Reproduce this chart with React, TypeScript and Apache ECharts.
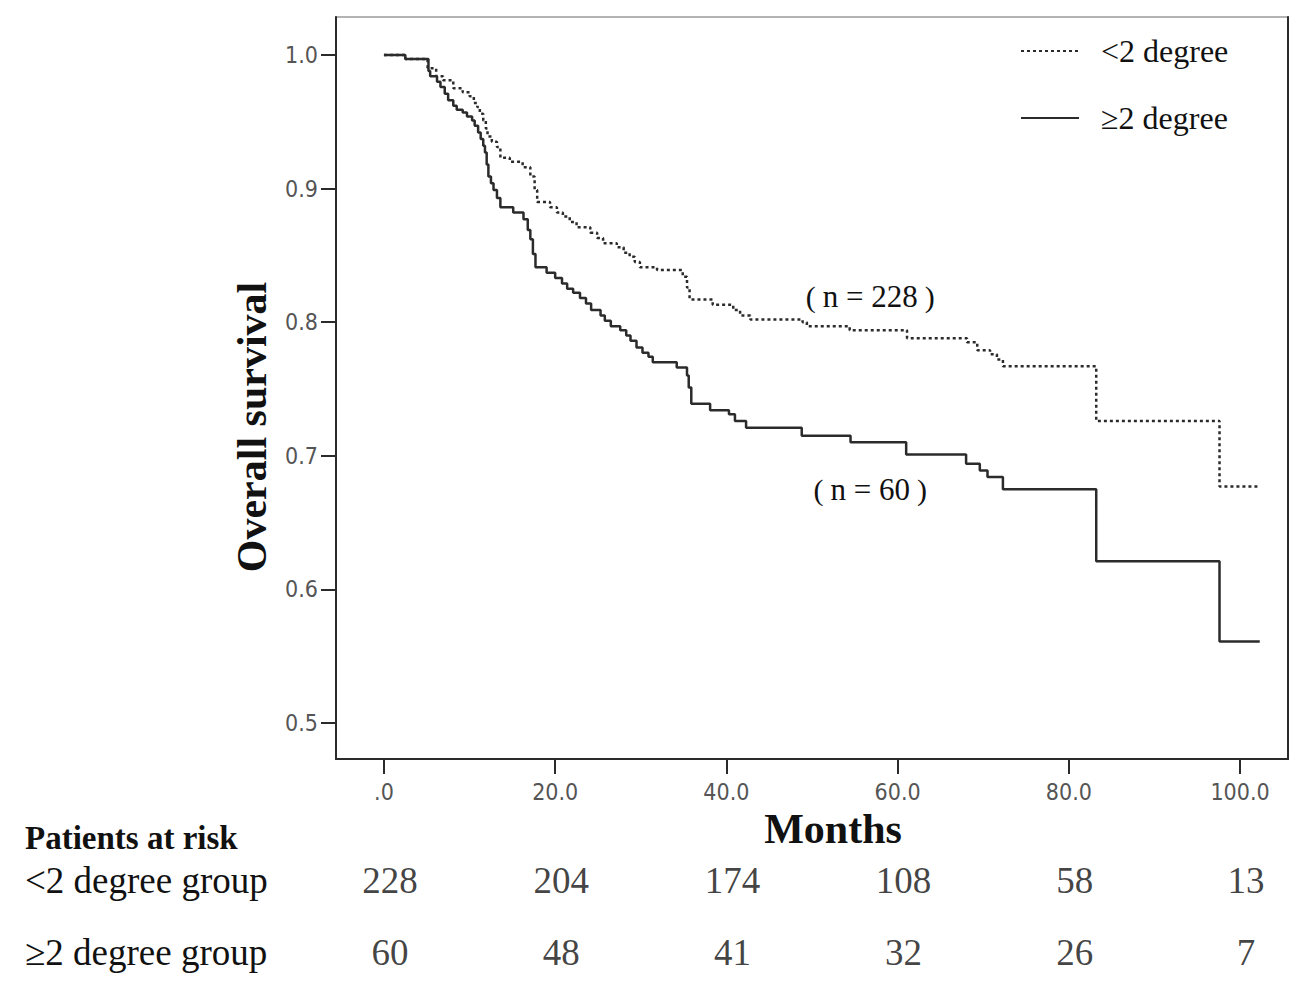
import React, { useEffect, useRef } from 'react';
import * as echarts from 'echarts';

// Kaplan-Meier step data (months, survival after the drop)
const timeLt2 = [0, 2.5, 5.1, 6.1, 6.9, 8.1, 9.2, 10.0, 10.5, 10.9, 11.2, 11.6, 11.9, 12.1, 12.6, 13.2, 13.6, 14.7, 16.2, 17.1, 17.6, 17.9, 19.4, 20.2, 20.9, 21.7, 22.5, 24.1, 24.9, 25.6, 27.2, 28.0, 28.7, 29.3, 29.9, 31.9, 34.9, 35.4, 35.7, 38.4, 40.8, 41.6, 42.8, 48.9, 49.4, 54.4, 61.1, 68.1, 69.3, 70.8, 71.6, 72.3, 83.2, 97.6, 102.3];
const survLt2 = [1.0, 0.997, 0.990, 0.984, 0.981, 0.975, 0.972, 0.969, 0.964, 0.961, 0.956, 0.951, 0.945, 0.939, 0.935, 0.931, 0.923, 0.920, 0.916, 0.909, 0.899, 0.890, 0.886, 0.882, 0.879, 0.875, 0.871, 0.867, 0.863, 0.859, 0.856, 0.852, 0.849, 0.845, 0.841, 0.839, 0.834, 0.826, 0.817, 0.813, 0.809, 0.805, 0.802, 0.800, 0.797, 0.794, 0.788, 0.785, 0.779, 0.776, 0.772, 0.767, 0.726, 0.677, 0.677];

const timeGe2 = [0, 2.5, 5.2, 5.4, 6.2, 6.6, 7.1, 7.5, 8.1, 8.5, 9.2, 9.7, 10.3, 10.6, 11.0, 11.3, 11.6, 11.8, 12.0, 12.2, 12.5, 12.8, 13.2, 13.6, 15.1, 16.3, 16.8, 17.1, 17.4, 17.7, 19.0, 20.0, 20.8, 21.4, 22.1, 22.9, 23.6, 24.2, 25.3, 25.8, 26.5, 27.6, 28.3, 28.8, 29.5, 30.2, 30.9, 31.4, 34.2, 35.4, 35.6, 35.9, 38.1, 40.3, 41.0, 42.3, 48.8, 54.5, 61.0, 68.0, 69.6, 70.5, 72.3, 83.2, 97.6, 102.3];
const survGe2 = [1.0, 0.997, 0.988, 0.984, 0.980, 0.976, 0.971, 0.966, 0.962, 0.959, 0.957, 0.954, 0.951, 0.947, 0.942, 0.937, 0.932, 0.927, 0.918, 0.909, 0.904, 0.899, 0.893, 0.886, 0.882, 0.877, 0.869, 0.862, 0.851, 0.841, 0.837, 0.833, 0.829, 0.825, 0.822, 0.818, 0.814, 0.809, 0.805, 0.801, 0.797, 0.794, 0.790, 0.786, 0.781, 0.777, 0.774, 0.770, 0.766, 0.760, 0.751, 0.739, 0.734, 0.731, 0.726, 0.721, 0.715, 0.710, 0.701, 0.694, 0.689, 0.684, 0.675, 0.621, 0.561, 0.561];

const groupNames = ['<2 degree', '≥2 degree'];
const xTicks = [0, 20, 40, 60, 80, 100];
const yTicks = [0.5, 0.6, 0.7, 0.8, 0.9, 1.0];

const riskRows = ['<2 degree group', '≥2 degree group'];
const riskTimes = [0, 20, 40, 60, 80, 100];
const riskLt2 = [228, 204, 174, 108, 58, 13];
const riskGe2 = [60, 48, 41, 32, 26, 7];

const annotLt2 = { text: 'n = 228', t: 56.8, s: 0.819 };
const annotGe2 = { text: 'n = 60', t: 56.8, s: 0.675 };

const SERIF = '"Liberation Serif", "Times New Roman", "Noto Sans CJK SC", serif';
const NARROW = '"Liberation Sans Narrow", "DejaVu Sans Condensed", "Liberation Sans", sans-serif';
const XMIN = -5.6;
const XMAX = 105.6;
const YMIN = 0.473;
const YMAX = 1.0284;
const INK = '#2b2b2b';

function buildOption(): any {
  const annotation = (a: { text: string; t: number; s: number }) => ({
    silent: true,
    symbol: 'circle',
    symbolSize: 0,
    itemStyle: { color: 'transparent' },
    label: {
      show: true,
      position: 'inside',
      formatter: (p: any) => `{pl|(}{t|${p.name}}{pr|)}`,
      color: '#111',
      rich: {
        pl: { fontFamily: SERIF, fontSize: 30, color: '#111', width: 17, align: 'left' },
        pr: { fontFamily: SERIF, fontSize: 30, color: '#111', width: 17, align: 'right' },
        t: { fontFamily: SERIF, fontSize: 31, color: '#111' },
      },
    },
    data: [{ name: a.text, coord: [a.t, a.s] }],
  });

  const riskSeries = (values: number[], row: number) => ({
    type: 'scatter',
    xAxisIndex: 1,
    yAxisIndex: 2,
    symbolSize: 0,
    silent: true,
    itemStyle: { color: 'transparent' },
    label: {
      show: true,
      position: 'inside',
      offset: [6, 0],
      formatter: (p: any) => String(p.value[2]),
      fontFamily: SERIF,
      fontSize: 37,
      color: '#111',
    },
    data: riskTimes.map((t, i) => [t, row, values[i]]),
  });

  return {
    animation: false,
    backgroundColor: '#ffffff',
    title: {
      text: 'Patients at risk',
      left: 25,
      top: 821,
      padding: 0,
      textStyle: { fontFamily: SERIF, fontWeight: 'bold', fontSize: 33, color: '#111' },
    },
    legend: {
      orient: 'vertical',
      left: 1020,
      top: 35,
      padding: 0,
      itemWidth: 58,
      itemHeight: 14,
      itemGap: 35,
      data: groupNames,
      selectedMode: false,
      itemStyle: { opacity: 0 },
      textStyle: {
        fontFamily: SERIF,
        fontSize: 32,
        lineHeight: 32,
        color: '#111',
        padding: [0, 0, 0, 17],
      },
    },
    grid: [
      { left: 336, top: 17, width: 952, height: 742, show: true, borderColor: '#9a9a9a', borderWidth: 1.5 },
      { left: 336, top: 844, width: 952, height: 144 },
    ],
    xAxis: [
      {
        type: 'value',
        gridIndex: 0,
        min: XMIN,
        max: XMAX,
        splitLine: { show: false },
        axisLine: { show: true, onZero: false, lineStyle: { color: INK, width: 2 } },
        axisTick: { show: true, customValues: xTicks, length: 15, lineStyle: { color: INK, width: 2 } },
        axisLabel: {
          customValues: xTicks,
          margin: 21,
          formatter: (v: number) => (v === 0 ? '.0' : v.toFixed(1)),
          fontFamily: NARROW,
          fontSize: 23,
          color: '#555',
        },
        name: 'Months',
        nameLocation: 'middle',
        nameGap: 42,
        nameTextStyle: {
          fontFamily: SERIF,
          fontWeight: 'bold',
          fontSize: 42,
          color: '#111',
          padding: [0, 0, 0, 42],
        },
      },
      { type: 'value', gridIndex: 1, min: XMIN, max: XMAX, show: false },
    ],
    yAxis: [
      {
        type: 'value',
        gridIndex: 0,
        min: YMIN,
        max: YMAX,
        splitLine: { show: false },
        axisLine: { show: true, onZero: false, lineStyle: { color: INK, width: 2 } },
        axisTick: { show: true, customValues: yTicks, length: 15, lineStyle: { color: INK, width: 2 } },
        axisLabel: {
          customValues: yTicks,
          margin: 18,
          formatter: (v: number) => v.toFixed(1),
          fontFamily: NARROW,
          fontSize: 23,
          color: '#555',
        },
        name: 'Overall survival',
        nameLocation: 'middle',
        nameGap: 63,
        nameTextStyle: {
          fontFamily: SERIF,
          fontWeight: 'bold',
          fontSize: 42,
          color: '#111',
          padding: [0, 78, 0, 0],
        },
      },
      {
        type: 'value',
        gridIndex: 0,
        position: 'right',
        min: YMIN,
        max: YMAX,
        splitLine: { show: false },
        axisLine: { show: true, onZero: false, lineStyle: { color: INK, width: 2 } },
        axisTick: { show: false },
        axisLabel: { show: false },
      },
      {
        type: 'category',
        gridIndex: 1,
        data: riskRows,
        inverse: true,
        axisLine: { show: false },
        axisTick: { show: false },
        splitLine: { show: false },
        axisLabel: {
          align: 'left',
          margin: 311,
          fontFamily: SERIF,
          fontSize: 37,
          color: '#111',
        },
      },
    ],
    series: [
      {
        type: 'line',
        name: groupNames[0],
        xAxisIndex: 0,
        yAxisIndex: 0,
        step: 'end',
        symbol: 'none',
        lineStyle: { color: INK, width: 2.5, type: [3, 3] },
        itemStyle: { color: INK },
        data: timeLt2.map((t, i) => [t, survLt2[i]]),
        markPoint: annotation(annotLt2),
        z: 3,
      },
      {
        type: 'line',
        name: groupNames[1],
        xAxisIndex: 0,
        yAxisIndex: 0,
        step: 'end',
        symbol: 'none',
        lineStyle: { color: INK, width: 2.5, type: 'solid' },
        itemStyle: { color: INK },
        data: timeGe2.map((t, i) => [t, survGe2[i]]),
        markPoint: annotation(annotGe2),
        z: 3,
      },
      riskSeries(riskLt2, 0),
      riskSeries(riskGe2, 1),
    ],
  };
}

export default function App() {
  const ref = useRef<HTMLDivElement>(null);
  useEffect(() => {
    if (!ref.current) return;
    const chart = echarts.init(ref.current, undefined, { renderer: 'svg' });
    chart.setOption(buildOption());
    return () => chart.dispose();
  }, []);
  return (
    <div
      ref={ref}
      style={{ position: 'absolute', left: 0, top: 0, width: 1309, height: 993, background: '#fff' }}
    />
  );
}
